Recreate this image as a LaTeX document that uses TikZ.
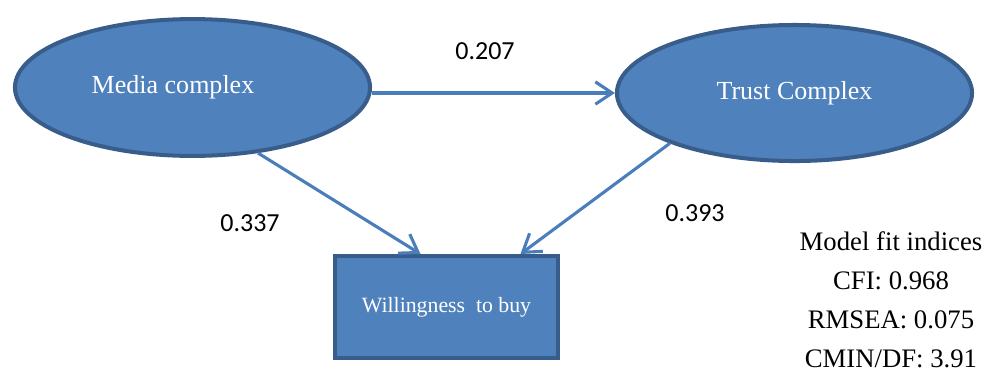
\documentclass[tikz,border=0pt]{standalone}
\usepackage{fontspec}
\setmainfont{Liberation Serif}
\newfontfamily\numfont{Carlito}
\usetikzlibrary{arrows.meta,shapes.geometric,calc}
\definecolor{boxfill}{HTML}{4F81BD}
\definecolor{boxline}{HTML}{385D8A}
\definecolor{arrowcol}{HTML}{4A7EBB}
\begin{document}
\begin{tikzpicture}[x=0.025cm,y=-0.025cm,
  latent/.style={ellipse, draw=boxline, fill=boxfill, line width=2.85pt,
    minimum width=8.875cm, minimum height=3.42cm, inner sep=0pt,
    text=white, font=\fontsize{18.5}{22}\selectfont},
  observed/.style={rectangle, draw=boxline, fill=boxfill, line width=2.85pt,
    minimum width=5.575cm, minimum height=2.55cm, inner sep=0pt,
    text=white, font=\fontsize{15.5}{20}\selectfont},
  conn/.style={draw=arrowcol, line width=2.2pt,
    -{Straight Barb[length=0.42cm, width=0.56cm, line width=2.2pt]}},
  coef/.style={font=\numfont\fontsize{18.5}{22}\selectfont, inner sep=0pt},
  fittext/.style={align=center, inner sep=0pt, font=\fontsize{19}{27.7}\selectfont}]
\useasboundingbox (0,0) rectangle (987,371);
\node[latent] (media) at (192.5,87.5) {\hspace*{-0.975cm}Media complex};
\node[latent, minimum height=3.4cm] (trust) at (794.5,93) {Trust Complex};
\node[observed] (will) at (446.5,307) {Willingness\ \ to buy};
\draw[conn] (media.east |- trust.west) -- (trust.west);
\draw[conn] (media.-45) -- ($(will.north)+(-26,0)$);
\draw[conn] (trust.202) -- ($(will.north)+(74,0)$);
\node[coef] (c1) at (485,51) {0.207};
\node[coef] (c2) at (250,223) {0.337};
\node[coef] (c3) at (695,213) {0.393};
\node[fittext] (fit) at (891,299.5) {Model fit indices\\CFI: 0.968\\RMSEA: 0.075\\CMIN/DF: 3.91};
\end{tikzpicture}
\end{document}
